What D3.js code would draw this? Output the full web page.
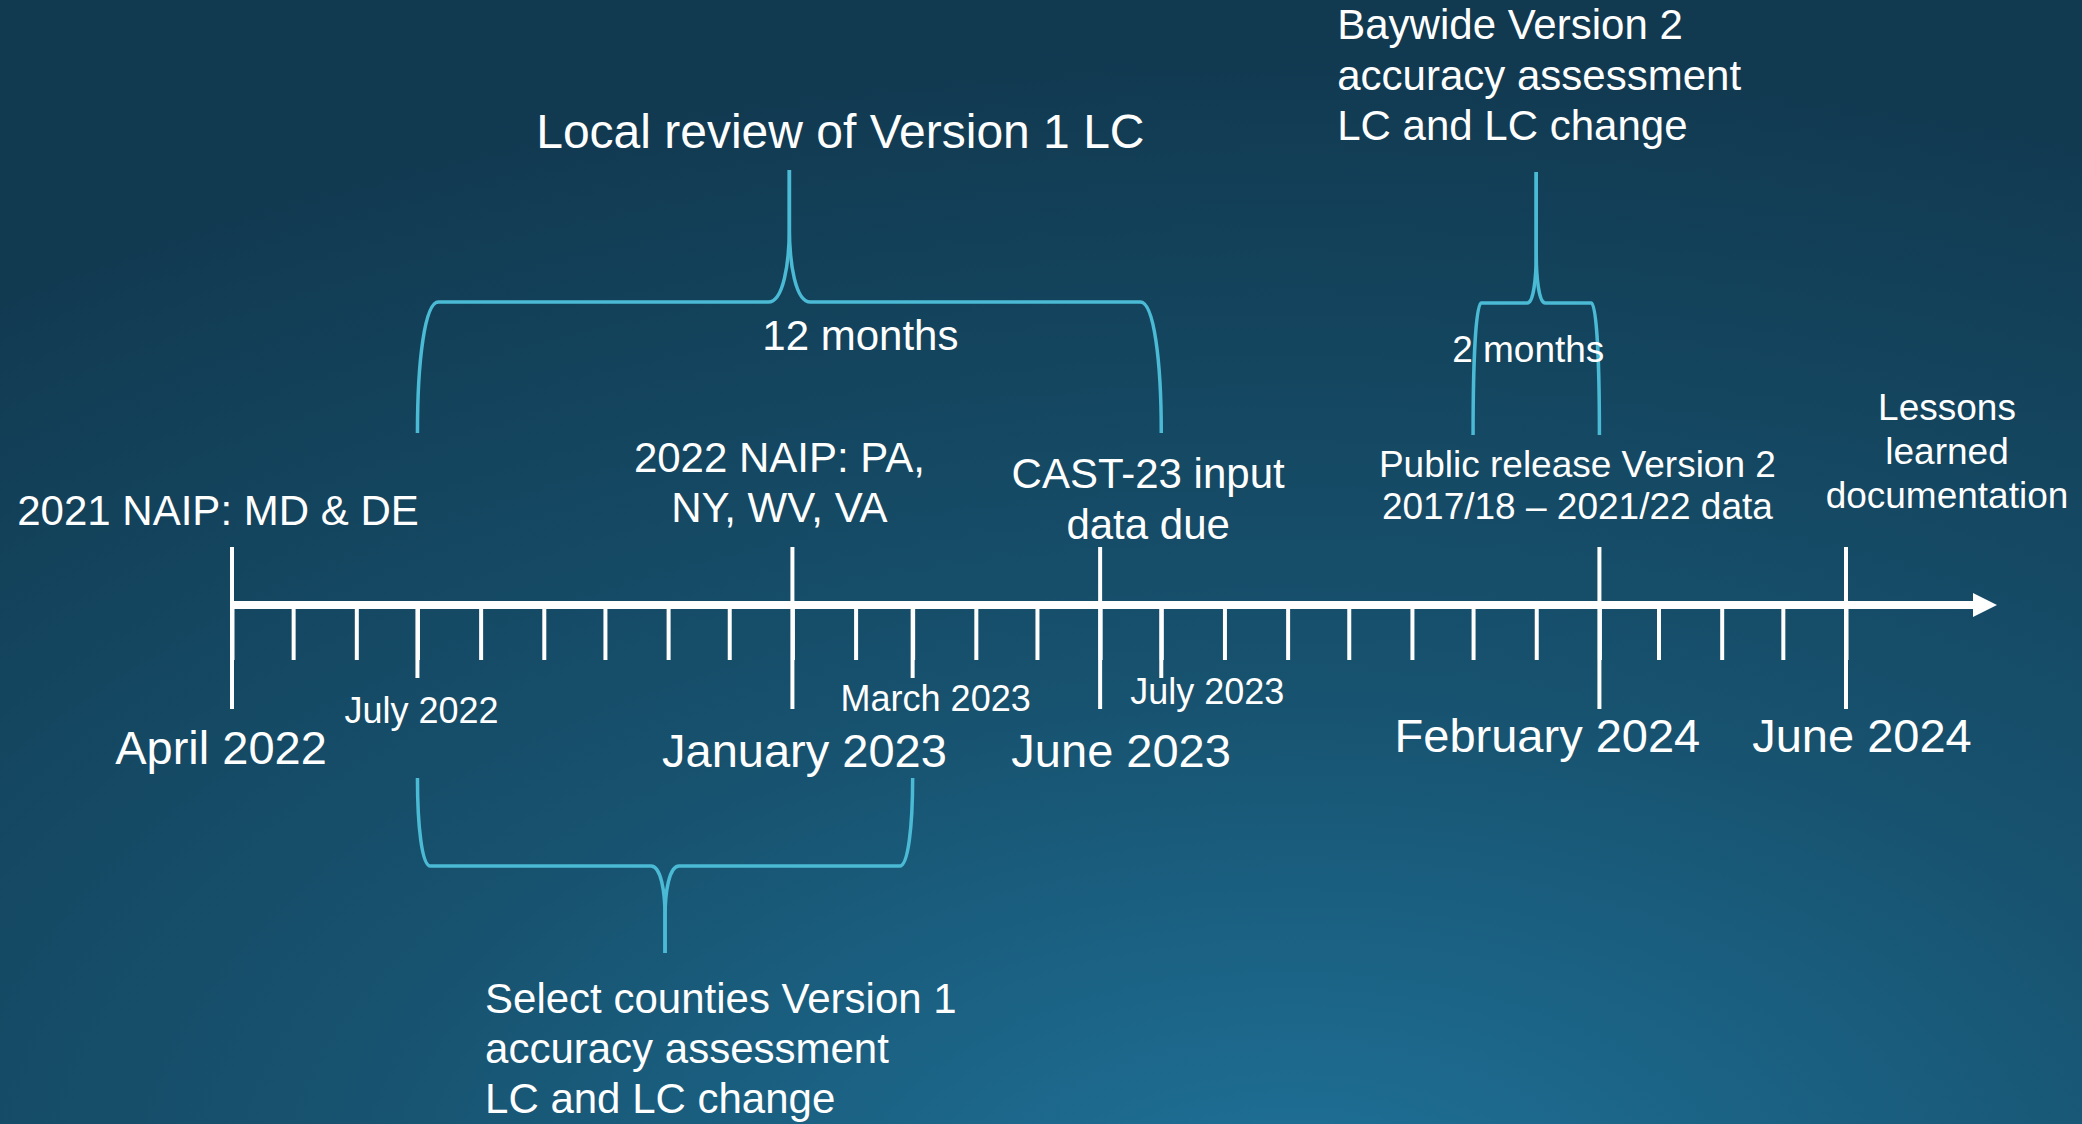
<!DOCTYPE html>
<html>
<head>
<meta charset="utf-8">
<script src="https://cdn.jsdelivr.net/npm/d3@7"></script>
<style>
  html, body { margin: 0; padding: 0; overflow: hidden; background: #123b52; }
  text { font-family: "Liberation Sans", Arial, sans-serif; fill: #ffffff; }
</style>
</head>
<body>
<div id="chart"></div>
<script>
// Timeline data
var axisStart = "2022-04", axisEnd = "2024-06";

var milestoneDates = ["2022-04", "2023-01", "2023-06", "2024-02", "2024-06"];
var milestoneNames = ["April 2022", "January 2023", "June 2023", "February 2024", "June 2024"];
var milestoneNotes = [
    ["2021 NAIP: MD & DE"],
    ["2022 NAIP: PA,", "NY, WV, VA"],
    ["CAST-23 input", "data due"],
    ["Public release Version 2", "2017/18 \u2013 2021/22 data"],
    ["Lessons", "learned", "documentation"]
];

var markerDates = ["2022-07", "2023-03", "2023-07"];
var markerNames = ["July 2022", "March 2023", "July 2023"];

var spanStarts = ["2022-07", "2023-12", "2022-07"];
var spanEnds = ["2023-07", "2024-02", "2023-03"];
var spanLengths = ["12 months", "2 months", ""];
var spanTasks = [
    ["Local review of Version 1 LC"],
    ["Baywide Version 2", "accuracy assessment", "LC and LC change"],
    ["Select counties Version 1", "accuracy assessment", "LC and LC change"]
];

// layout (placement of the labels, not data)
var milestoneLayout = [
    { dx: -11, y: 764, ndx: -14, ny: 525, nsize: 42, nlh: 50 },
    { dx: 12, y: 767, ndx: -13, ny: 472, nsize: 42, nlh: 50 },
    { dx: 21, y: 767, ndx: 48, ny: 488, nsize: 42, nlh: 51 },
    { dx: -52, y: 752, ndx: -22, ny: 477, nsize: 37, nlh: 42 },
    { dx: 16, y: 752, ndx: 101, ny: 420, nsize: 37, nlh: 44 }
];
var markerLayout = [{ dx: 4, y: 723 }, { dx: 23, y: 711 }, { dx: 46, y: 704 }];
var spanLayout = [
    { leg: 433, bar: 302, tip: 170, r: 21, w: 21, h: 75, ldx: 71, ly: 350, lsize: 42,
      tx: 51, ty: 148, tanchor: "middle", tsize: 48, tlh: 50 },
    { leg: 435, bar: 303, tip: 172, r: 8, w: 9, h: 50, ldx: -8, ly: 362, lsize: 37,
      tx: -199, ty: 39, tanchor: "start", tsize: 42, tlh: 50.5 },
    { leg: 778, bar: 866, tip: 953, r: 13, w: 14, h: 51, ldx: 0, ly: 0, lsize: 42,
      tx: -180, ty: 1013, tanchor: "start", tsize: 42, tlh: 50 }
];

var width = 2082,
    height = 1124,
    axisY = 605,
    arrowTip = 1997;

var parseMonth = d3.timeParse("%Y-%m");

var svg = d3.select("#chart").append("svg")
    .attr("width", width)
    .attr("height", height);

// background
var grad = svg.append("defs").append("radialGradient")
    .attr("id", "bg")
    .attr("cx", 0.62).attr("cy", 1.08).attr("r", 1.05);
grad.append("stop").attr("offset", "0%").attr("stop-color", "#1f7299");
grad.append("stop").attr("offset", "45%").attr("stop-color", "#17526f");
grad.append("stop").attr("offset", "100%").attr("stop-color", "#113950");

svg.append("rect")
    .attr("width", width)
    .attr("height", height)
    .attr("fill", "url(#bg)");

var x = d3.scaleTime()
    .domain([parseMonth(axisStart), parseMonth(axisEnd)])
    .range([232, 1846]);

// month ticks
var monthAxis = d3.axisBottom(x)
    .ticks(d3.timeMonth.every(1))
    .tickSize(55)
    .tickFormat("");

svg.append("g")
    .attr("transform", "translate(0," + axisY + ")")
    .style("color", "#ffffff")
    .call(monthAxis)
    .call(function (g) { g.select(".domain").remove(); })
    .selectAll("line")
    .attr("stroke-width", 4);

// main line + arrow
svg.append("line")
    .attr("x1", x(parseMonth(axisStart)) - 2)
    .attr("x2", arrowTip - 22)
    .attr("y1", axisY)
    .attr("y2", axisY)
    .attr("stroke", "#ffffff")
    .attr("stroke-width", 8);

svg.append("path")
    .attr("d", "M" + (arrowTip - 24) + "," + (axisY - 12) + "L" + arrowTip + "," + axisY +
        "L" + (arrowTip - 24) + "," + (axisY + 12) + "Z")
    .attr("fill", "#ffffff");

// labelled months (medium ticks)
var markers = markerDates.map(function (d, i) {
    return { date: parseMonth(d), name: markerNames[i], lay: markerLayout[i] };
});

svg.selectAll(".marker")
    .data(markers)
    .enter().append("line")
    .attr("class", "marker")
    .attr("x1", function (d) { return x(d.date); })
    .attr("x2", function (d) { return x(d.date); })
    .attr("y1", axisY)
    .attr("y2", axisY + 73)
    .attr("stroke", "#ffffff")
    .attr("stroke-width", 4);

svg.selectAll(".markerLabel")
    .data(markers)
    .enter().append("text")
    .attr("class", "markerLabel")
    .attr("x", function (d) { return x(d.date) + d.lay.dx; })
    .attr("y", function (d) { return d.lay.y; })
    .attr("text-anchor", "middle")
    .attr("font-size", 36)
    .text(function (d) { return d.name; });

// milestones (long ticks)
var milestones = milestoneDates.map(function (d, i) {
    return { date: parseMonth(d), name: milestoneNames[i], notes: milestoneNotes[i], lay: milestoneLayout[i] };
});

svg.selectAll(".milestone")
    .data(milestones)
    .enter().append("line")
    .attr("class", "milestone")
    .attr("x1", function (d) { return x(d.date); })
    .attr("x2", function (d) { return x(d.date); })
    .attr("y1", axisY - 58)
    .attr("y2", axisY + 104)
    .attr("stroke", "#ffffff")
    .attr("stroke-width", 4);

svg.selectAll(".milestoneLabel")
    .data(milestones)
    .enter().append("text")
    .attr("class", "milestoneLabel")
    .attr("x", function (d) { return x(d.date) + d.lay.dx; })
    .attr("y", function (d) { return d.lay.y; })
    .attr("text-anchor", "middle")
    .attr("font-size", 47)
    .text(function (d) { return d.name; });

var notes = svg.selectAll(".milestoneNote")
    .data(milestones)
    .enter().append("text")
    .attr("class", "milestoneNote")
    .attr("text-anchor", "middle")
    .attr("font-size", function (d) { return d.lay.nsize; });

notes.selectAll("tspan")
    .data(function (d) {
        return d.notes.map(function (t, j) {
            return { t: t, x: x(d.date) + d.lay.ndx, y: d.lay.ny + j * d.lay.nlh };
        });
    })
    .enter().append("tspan")
    .attr("x", function (d) { return d.x; })
    .attr("y", function (d) { return d.y; })
    .text(function (d) { return d.t; });

// curly brackets for the spans
function halfBrace(xLeg, xMid, s) {
    var dir = Math.sign(s.tip - s.bar);   // -1: stem goes up, +1: stem goes down
    var side = Math.sign(xMid - xLeg);    // +1 left half, -1 right half
    var cuspY = s.bar + dir * s.h;
    return "M" + xLeg + "," + s.leg +
        "C" + xLeg + "," + (s.bar + (s.leg - s.bar) * 0.45) + " " +
        (xLeg + side * s.r * 0.35) + "," + s.bar + " " +
        (xLeg + side * s.r) + "," + s.bar +
        "L" + (xMid - side * s.w) + "," + s.bar +
        "C" + (xMid - side * s.w * 0.3) + "," + s.bar + " " +
        xMid + "," + (s.bar + dir * s.h * 0.5) + " " +
        xMid + "," + cuspY +
        "L" + xMid + "," + s.tip;
}

var spans = spanStarts.map(function (d, i) {
    var x0 = x(parseMonth(d)), x1 = x(parseMonth(spanEnds[i]));
    return { x0: x0, x1: x1, mid: (x0 + x1) / 2, length: spanLengths[i], task: spanTasks[i], lay: spanLayout[i] };
});

var braces = svg.selectAll(".span")
    .data(spans)
    .enter().append("g")
    .attr("class", "span");

braces.append("path")
    .attr("d", function (d) { return halfBrace(d.x0, d.mid, d.lay); });
braces.append("path")
    .attr("d", function (d) { return halfBrace(d.x1, d.mid, d.lay); });
braces.selectAll("path")
    .attr("fill", "none")
    .attr("stroke", "#4bbad4")
    .attr("stroke-width", 3.5);

braces.filter(function (d) { return d.length; })
    .append("text")
    .attr("x", function (d) { return d.mid + d.lay.ldx; })
    .attr("y", function (d) { return d.lay.ly; })
    .attr("text-anchor", "middle")
    .attr("font-size", function (d) { return d.lay.lsize; })
    .text(function (d) { return d.length; });

braces.append("text")
    .attr("text-anchor", function (d) { return d.lay.tanchor; })
    .attr("font-size", function (d) { return d.lay.tsize; })
    .selectAll("tspan")
    .data(function (d) {
        return d.task.map(function (t, j) {
            return { t: t, x: d.mid + d.lay.tx, y: d.lay.ty + j * d.lay.tlh };
        });
    })
    .enter().append("tspan")
    .attr("x", function (d) { return d.x; })
    .attr("y", function (d) { return d.y; })
    .text(function (d) { return d.t; });
</script>
</body>
</html>
